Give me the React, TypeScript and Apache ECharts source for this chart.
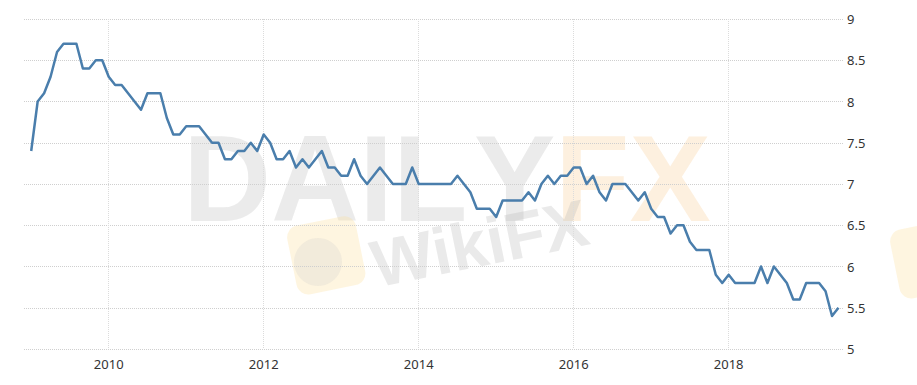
import React, { useEffect, useRef } from "react";
import * as echarts from "echarts";

// Monthly values, Jan 2009 – Jun 2019
const startYear = 2009;
const rate2009 = [7.4, 8.0, 8.1, 8.3, 8.6, 8.7, 8.7, 8.7, 8.4, 8.4, 8.5, 8.5];
const rate2010 = [8.3, 8.2, 8.2, 8.1, 8.0, 7.9, 8.1, 8.1, 8.1, 7.8, 7.6, 7.6];
const rate2011 = [7.7, 7.7, 7.7, 7.6, 7.5, 7.5, 7.3, 7.3, 7.4, 7.4, 7.5, 7.4];
const rate2012 = [7.6, 7.5, 7.3, 7.3, 7.4, 7.2, 7.3, 7.2, 7.3, 7.4, 7.2, 7.2];
const rate2013 = [7.1, 7.1, 7.3, 7.1, 7.0, 7.1, 7.2, 7.1, 7.0, 7.0, 7.0, 7.2];
const rate2014 = [7.0, 7.0, 7.0, 7.0, 7.0, 7.0, 7.1, 7.0, 6.9, 6.7, 6.7, 6.7];
const rate2015 = [6.6, 6.8, 6.8, 6.8, 6.8, 6.9, 6.8, 7.0, 7.1, 7.0, 7.1, 7.1];
const rate2016 = [7.2, 7.2, 7.0, 7.1, 6.9, 6.8, 7.0, 7.0, 7.0, 6.9, 6.8, 6.9];
const rate2017 = [6.7, 6.6, 6.6, 6.4, 6.5, 6.5, 6.3, 6.2, 6.2, 6.2, 5.9, 5.8];
const rate2018 = [5.9, 5.8, 5.8, 5.8, 5.8, 6.0, 5.8, 6.0, 5.9, 5.8, 5.6, 5.6];
const rate2019 = [5.8, 5.8, 5.8, 5.7, 5.4, 5.5];

const yearTicks = [2010, 2012, 2014, 2016, 2018];
const xMin = 2008.907;
const xMax = 2019.475;
const yMin = 5;
const yMax = 9;
const yStep = 0.5;

const allRates = [
  ...rate2009, ...rate2010, ...rate2011, ...rate2012, ...rate2013, ...rate2014,
  ...rate2015, ...rate2016, ...rate2017, ...rate2018, ...rate2019,
];

export default function App() {
  const ref = useRef<HTMLDivElement>(null);
  useEffect(() => {
    if (!ref.current) return;
    const chart = echarts.init(ref.current, undefined, { renderer: "svg" });
    const seriesData = allRates.map((v, i) => [startYear + i / 12, v]);
    chart.setOption({
      animation: false,
      backgroundColor: "#ffffff",
      textStyle: { fontFamily: "Noto Sans" },
      grid: { left: 24, right: 74, top: 19, bottom: 36, containLabel: false },
      graphic: [
        {
          type: "text", left: 183, top: 118, z: 0, silent: true,
          style: { text: "DAIL", fontSize: 122, fontWeight: "bold", fontFamily: "Liberation Sans", fill: "rgba(200,200,200,0.36)" },
        },
        {
          type: "text", left: 474, top: 118, z: 0, silent: true,
          style: { text: "Y", fontSize: 122, fontWeight: "bold", fontFamily: "Liberation Sans", fill: "rgba(200,200,200,0.36)" },
        },
        {
          type: "text", left: 555, top: 118, z: 0, silent: true,
          style: { text: "FX", fontSize: 122, fontWeight: "bold", fontFamily: "Liberation Sans", fill: "rgba(250,205,150,0.3)" },
        },
        {
          type: "rect", x: 285, y: 228, rotation: 0.2, z: 0, silent: true,
          shape: { x: 0, y: 0, width: 70, height: 70, r: 12 },
          style: { fill: "rgba(252,225,160,0.32)" },
        },
        {
          type: "circle", x: 318, y: 262, z: 0, silent: true,
          shape: { cx: 0, cy: 0, r: 24 },
          style: { fill: "rgba(200,200,200,0.22)" },
        },
        {
          type: "text", x: 372, y: 265, rotation: 0.2, z: 0, silent: true,
          style: { text: "WikiFX", fontSize: 66, fontWeight: "bold", fontFamily: "Liberation Sans", fill: "rgba(170,170,170,0.25)", textVerticalAlign: "middle" },
        },
        {
          type: "rect", x: 888, y: 232, rotation: 0.2, z: 0, silent: true,
          shape: { x: 0, y: 0, width: 70, height: 70, r: 12 },
          style: { fill: "rgba(252,225,160,0.32)" },
        },
      ],
      xAxis: {
        type: "value",
        min: xMin,
        max: xMax,
        axisLine: { show: false },
        axisTick: { show: false, customValues: yearTicks },
        axisLabel: {
          customValues: yearTicks,
          color: "#333",
          fontSize: 13,
          margin: 8,
          formatter: (v: number) => String(Math.round(v)),
        },
        splitLine: { show: true, lineStyle: { color: "#dcdcdc", type: "dotted", width: 1 } },
      },
      yAxis: {
        type: "value",
        position: "right",
        min: yMin,
        max: yMax,
        interval: yStep,
        axisLine: { show: false },
        axisTick: { show: false },
        axisLabel: { color: "#333", fontSize: 13, margin: 4 },
        splitLine: { show: true, lineStyle: { color: "#cfcfcf", type: "dotted", width: 1 } },
      },
      series: [
        {
          type: "line",
          data: seriesData,
          showSymbol: false,
          symbol: "none",
          z: 5,
          lineStyle: { color: "#4a7eac", width: 2.5, join: "round" },
        },
      ],
    });
    return () => chart.dispose();
  }, []);
  return <div ref={ref} style={{ width: 917, height: 385, position: "absolute", left: 0, top: 0 }} />;
}
